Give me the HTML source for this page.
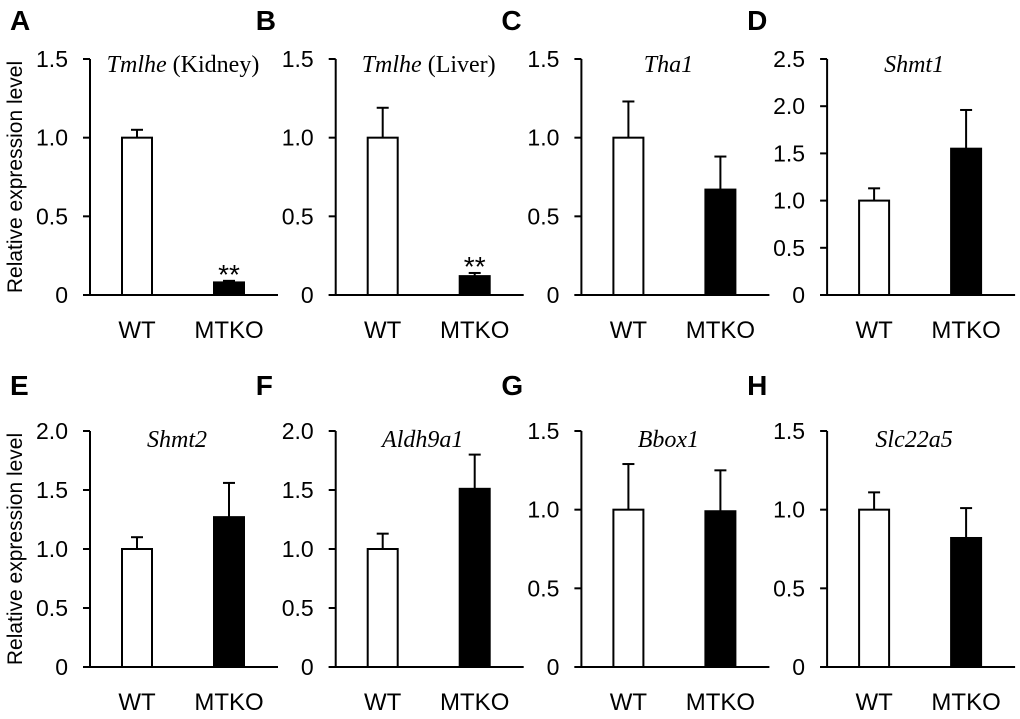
<!DOCTYPE html>
<html><head><meta charset="utf-8"><style>
body{margin:0;background:#fff;}
svg{display:block;}
text{font-family:"Liberation Sans",Arial,sans-serif;}
</style></head><body>
<svg id="c" width="1020" height="719" viewBox="0 0 1020 719"></svg>
<script>
const panelLetters=["A","B","C","D","E","F","G","H"];
const geneNames=["Tmlhe","Tmlhe","Tha1","Shmt1","Shmt2","Aldh9a1","Bbox1","Slc22a5"];
const tissueNotes=[" (Kidney)"," (Liver)","","","","","",""];
const categories=["WT","MTKO"];
const wtValues=[1.0,1.0,1.0,1.0,1.0,1.0,1.0,1.0];
const wtErrors=[0.05,0.19,0.23,0.13,0.10,0.13,0.29,0.11];
const mtkoValues=[0.08,0.12,0.67,1.55,1.27,1.51,0.99,0.82];
const mtkoErrors=[0.01,0.02,0.21,0.41,0.29,0.29,0.26,0.19];
const yMaxes=[1.5,1.5,1.5,2.5,2.0,2.0,1.5,1.5];
const sigMarks=["**","**","","","","","",""];
const NS="http://www.w3.org/2000/svg";
const svg=document.getElementById('c');
function mk(tag,attrs,parent,txt){const e=document.createElementNS(NS,tag);for(const k in attrs)e.setAttribute(k,attrs[k]);if(txt!==undefined)e.textContent=txt;parent.appendChild(e);return e;}
function fmt(v){return v===0?"0":v.toFixed(1);}
for(let i=0;i<8;i++){
  const col=i%4,row=Math.floor(i/4);
  const ax=90+col*245.7, y0=row?667:295, H=236;
  const ymax=yMaxes[i];
  const ys=v=>y0-v/ymax*H;
  const g=mk('g',{},svg);
  
  
  const L=mk('text',{x:ax-80,y:y0-(row?272:265),'font-size':28,'font-weight':'bold'},g,panelLetters[i]);
  
  const ya=mk('line',{x1:ax,y1:y0-H,x2:ax,y2:y0,stroke:'#000','stroke-width':2},g);
  
  const xa=mk('line',{x1:ax-7,y1:y0,x2:ax+188,y2:y0,stroke:'#000','stroke-width':2},g);
  
  for(let v=0;v<=ymax+1e-9;v+=0.5){
    const y=ys(v);
    mk('line',{x1:ax-7,y1:y,x2:ax,y2:y,stroke:'#000','stroke-width':2},g);
    const t=mk('text',{x:ax-22,y:y+8,'font-size':23,'text-anchor':'end'},g,fmt(v));
    
  }
  const tt=mk('text',{x:ax+(tissueNotes[i]?93:87),y:y0-(row?220:223),'font-size':24,'text-anchor':'middle','font-family':'"Liberation Serif",serif'},g);
  
  mk('tspan',{'font-style':'italic','font-family':'"Liberation Serif",serif'},tt,geneNames[i]);
  if(tissueNotes[i])mk('tspan',{'font-family':'"Liberation Serif",serif'},tt,tissueNotes[i]);
  const vals=[wtValues[i],mtkoValues[i]], errs=[wtErrors[i],mtkoErrors[i]];
  const bx=[ax+32,ax+124];
  for(let j=0;j<2;j++){
    const top=ys(vals[j]), et=ys(vals[j]+errs[j]), cx=bx[j]+15;
    const eb=mk('line',{x1:cx,y1:top,x2:cx,y2:et,stroke:'#000','stroke-width':2},g);
    
    mk('line',{x1:cx-6,y1:et,x2:cx+6,y2:et,stroke:'#000','stroke-width':2},g);
    const r=mk('rect',{x:bx[j],y:top,width:30,height:y0-top,fill:j?'#000':'#fff',stroke:'#000','stroke-width':2},g);
    
    const xl=mk('text',{x:cx,y:y0+43,'font-size':24,'text-anchor':'middle'},g,categories[j]);
    
  }
  if(sigMarks[i]){
    const s=mk('text',{x:bx[1]+15,y:ys(mtkoValues[i]+mtkoErrors[i])+3,'font-size':28,'text-anchor':'middle','font-family':'"Liberation Serif",serif'},g,sigMarks[i]);
    
  }
  if(col===0){
    const cy=y0-H/2;
    const yt=mk('text',{x:22,y:cy,'font-size':21,'text-anchor':'middle',transform:`rotate(-90 22 ${cy})`},g,'Relative expression level');
    
  }
}
</script>
</body></html>
